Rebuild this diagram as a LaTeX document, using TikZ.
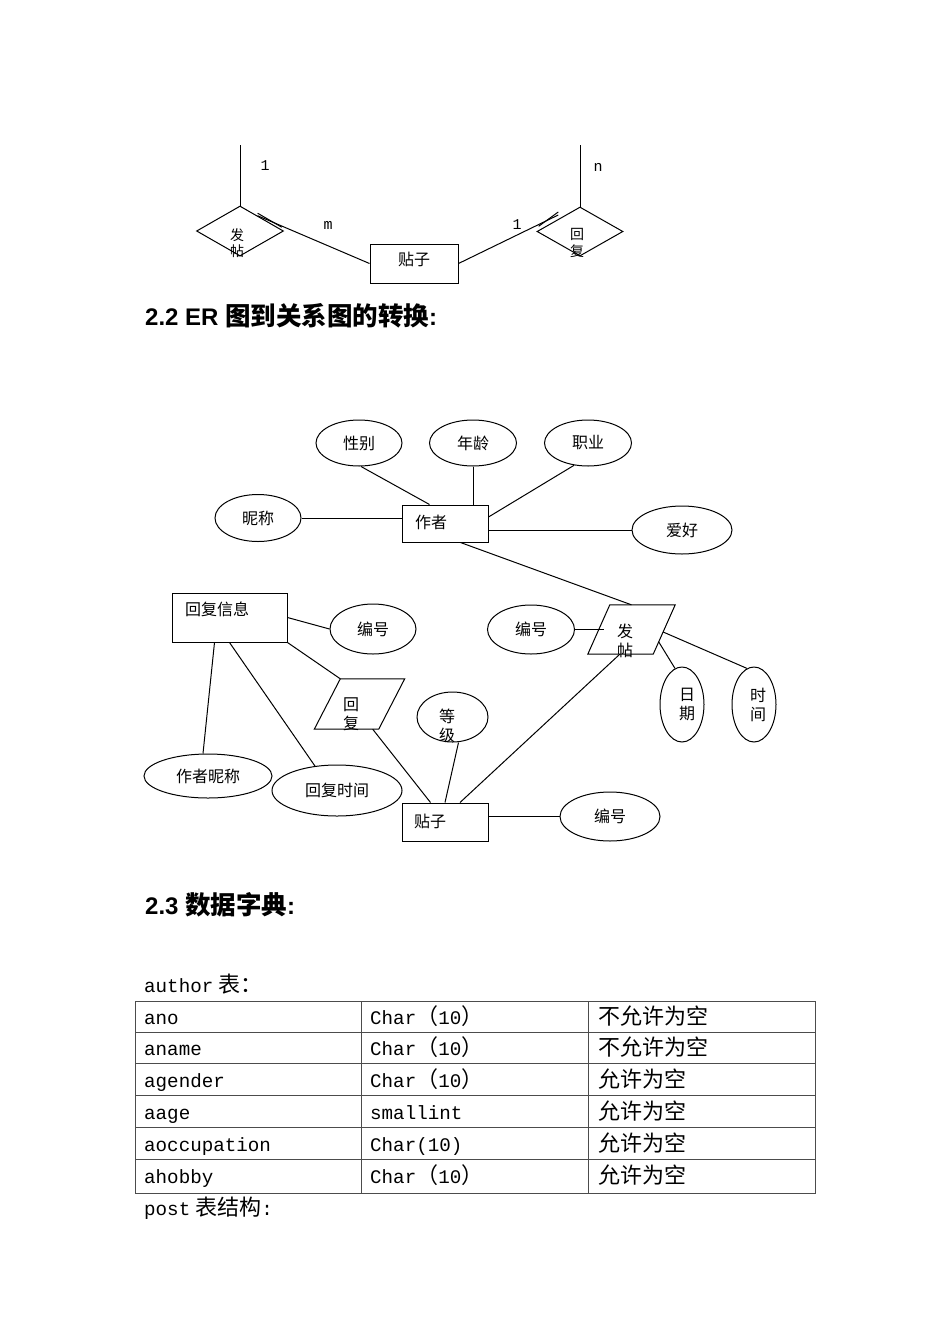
\documentclass[tikz,border=0pt]{standalone}
\usepackage{fontspec}
\usetikzlibrary{shapes.geometric,calc}
\newfontfamily\cjk{Noto Sans CJK SC}
\newfontfamily\mono{Liberation Mono}
\newfontfamily\hsans{Liberation Sans}
\newcommand\cj[1]{{\cjk\fontsize{22}{26}\selectfont #1}}
\newcommand\mo[1]{{\mono\fontsize{19.2}{26}\selectfont #1}}
\tikzset{
  ln/.style={draw=black, line width=1pt},
  ertxt/.style={font=\cjk\fontsize{16}{19}\selectfont, inner sep=0pt, align=center},
  smtxt/.style={font=\cjk\fontsize{14}{16.5}\selectfont, inner sep=0pt, align=center},
  ell/.style={ellipse, draw, line width=1pt, inner sep=0pt, ertxt},
  ent/.style={rectangle, draw, line width=1pt, inner sep=0pt},
  dia/.style={diamond, draw, line width=1pt, inner sep=0pt},
  body/.style={rectangle, inner sep=0pt},
  card/.style={font=\mono\fontsize{15}{17}\selectfont, inner sep=0pt},
  head/.style={anchor=base west, inner sep=0pt},
  tabline/.style={draw=black!70, line width=1pt},
  cell/.style={anchor=base west, inner sep=0pt},
}
\newcommand\hd[2]{{\hsans\bfseries\fontsize{24}{28}\selectfont #1}{\cjk\bfseries\fontsize{25.5}{28}\selectfont #2}{\hsans\bfseries\fontsize{24}{28}\selectfont :}}
\begin{document}
\begin{tikzpicture}[x=1pt,y=-1pt]
\fill[white] (0,0) rectangle (950,1344);
\useasboundingbox (0,0) rectangle (950,1344);

% ---------- top fragment ----------
\node[dia, minimum width=87, minimum height=50] (fa1) at (240,231) {};
\node[dia, minimum width=86, minimum height=49] (hf1) at (580,231.5) {};
\node[ent, minimum width=88, minimum height=39] (tz1) at (414,263.5) {};
\node[ertxt] (tz1t) at (414,259) {贴子};
\node[smtxt] (fa1t) at (237,243) {发\\帖};
\node[smtxt] (hf1t) at (577,243) {回\\复};
\coordinate (fa1top) at (240,145);
\coordinate (hf1top) at (580,145);
\draw[ln] (fa1.north) -- (fa1top);
\draw[ln] (hf1.north) -- (hf1top);
\draw[ln] ($(fa1.north)!0.4!(fa1.east)$) -- (tz1.west);
\draw[ln] ($(fa1.north)!0.4!(fa1.east)+(0,-2.5)$) -- ($(fa1.north)!0.95!(fa1.east)+(0,-2.5)$);
\draw[ln] (tz1.east) -- ($(hf1.west)!0.5!(hf1.north)+(0,-4)$);
\draw[ln] ($(hf1.west)!0.05!(hf1.north)+(0,-4)$) -- ($(hf1.west)!0.5!(hf1.north)+(0,-7)$);
\node[card] (c1) at (265,166) {1};
\node[card] (c2) at (328,225) {m};
\node[card] (c3) at (517,225) {1};
\node[card] (c4) at (598,167) {n};

% ---------- heading 2.2 ----------
\node[head] (h22) at (145,325) {\hd{2.2 ER }{图到关系图的转换}};

% ---------- ER diagram ----------
\node[ell, minimum width=86, minimum height=46] (xb) at (359,443) {性别};
\node[ell, minimum width=87, minimum height=46] (nl) at (473,443) {年龄};
\node[ell, minimum width=87, minimum height=46] (zy) at (588,443) {职业};
\node[ell, minimum width=86, minimum height=47] (nc) at (258,518) {昵称};
\node[ell, minimum width=100, minimum height=48] (ah) at (682,530) {爱好};
\node[ent, minimum width=86, minimum height=37] (zz) at (445,523.5) {};
\node[ertxt] (zzt) at (431,522) {作者};

\draw[ln] ($(xb.south)+(2,0)$) -- ($(zz.north west)+(28,0)$);
\draw[ln] (nl.south) -- (nl.south |- zz.north);
\draw[ln] (zy.-122.5) -- ($(zz.east)+(0,-6.5)$);
\draw[ln] (nc.east) -- (nc.east -| zz.west);
\draw[ln] (ah.west -| zz.east) -- (ah.west);

% relationship 发帖 (parallelogram)
\node[body, minimum width=65, minimum height=49] (ft2) at (631.5,629.5) {};
\coordinate (ft2tl) at ($(ft2.north west)+(11,0)$);
\coordinate (ft2tr) at ($(ft2.north east)+(11,0)$);
\coordinate (ft2br) at ($(ft2.south east)+(-11,0)$);
\coordinate (ft2bl) at ($(ft2.south west)+(-11,0)$);
\draw[ln] (ft2tl) -- (ft2tr) -- (ft2br) -- (ft2bl) -- cycle;
\node[ertxt] (ft2t) at (625,640.5) {发\\帖};
\draw[ln] ($(zz.south east)+(-28,0)$) -- ($(ft2tl)!0.33!(ft2tr)$);

\node[ent, minimum width=115, minimum height=49] (hx) at (229.5,617.5) {};
\node[ertxt] (hxt) at (217,609) {回复信息};
\node[ell, minimum width=86, minimum height=50] (bh1) at (373,629) {编号};

% relationship 回复 (parallelogram)
\node[body, minimum width=64, minimum height=50] (hf2) at (359.5,704) {};
\coordinate (hf2tl) at ($(hf2.north west)+(13,0)$);
\coordinate (hf2tr) at ($(hf2.north east)+(13,0)$);
\coordinate (hf2br) at ($(hf2.south east)+(-13,0)$);
\coordinate (hf2bl) at ($(hf2.south west)+(-13,0)$);
\draw[ln] (hf2tl) -- (hf2tr) -- (hf2br) -- (hf2bl) -- cycle;
\node[ertxt] (hf2t) at (351,714) {回\\复};

\node[ell, minimum width=128, minimum height=44] (zznc) at (208,776) {作者昵称};
\node[ell, minimum width=130, minimum height=51] (hfsj) at (337,790.5) {回复时间};
\node[ell, minimum width=71, minimum height=50] (dj) at (452.5,717) {};
\node[ertxt] (djt) at (447,725.5) {等\\级};
\node[ell, minimum width=87, minimum height=49] (bh2) at (531,629.5) {编号};
\node[ell, minimum width=44, minimum height=75] (rq) at (682,704.5) {};
\node[ertxt] (rqt) at (687,704.5) {日\\期};
\node[ell, minimum width=44, minimum height=75] (sj) at (754,704.5) {};
\node[ertxt] (sjt) at (758,704.5) {时\\间};
\node[ent, minimum width=86, minimum height=38] (tz2) at (445,822) {};
\node[ertxt] (tz2t) at (430,821) {贴子};
\node[ell, minimum width=100, minimum height=49] (bh3) at (610,816.5) {编号};

\draw[ln] (hx.east) -- (bh1.west);
\draw[ln] (hx.south east) -- (hf2tl);
\draw[ln] ($(hx.south west)+(43,0)$) -- ($(zznc.north)+(-5,0)$);
\draw[ln] ($(hx.south west)+(58,0)$) -- (hfsj.132);
\draw[ln] ($(hf2br)+(-6,0)$) -- ($(tz2.north west)+(29,0)$);
\draw[ln] ($(dj.south)+(6,0)$) -- (tz2.north);
\draw[ln] ($(ft2bl)+(32,0)$) -- ($(tz2.north)+(15,0)$);
\draw[ln] (bh2.east) -- ($(bh2.east)+(29,0)$);
\draw[ln] ($(ft2br)!0.25!(ft2tr)$) -- (rq.101);
\draw[ln] ($(ft2br)!0.45!(ft2tr)$) -- (sj.101);
\draw[ln] (bh3.west -| tz2.east) -- (bh3.west);

% ---------- heading 2.3 ----------
\node[head] (h23) at (145,914) {\hd{2.3 }{数据字典}};

% ---------- table ----------
\node[cell] (cap1) at (144,992) {\mo{author}\hspace{5pt}\cj{表：}};
\draw[tabline] (135,1001) rectangle (815,1193);
\foreach \yy in {1032,1063,1095,1127,1159} {\draw[tabline] (135,\yy) -- (815,\yy);}
\draw[tabline] (361,1001) -- (361,1193);
\draw[tabline] (588,1001) -- (588,1193);

\node[cell] (a1) at (144,1024) {\mo{ano}};
\node[cell] (b1) at (370,1024) {\mo{Char}\cj{（}\mo{10}\cj{）}};
\node[cell] (c1r) at (598,1024) {\cj{不允许为空}};
\node[cell] (a2) at (144,1055) {\mo{aname}};
\node[cell] (b2) at (370,1055) {\mo{Char}\cj{（}\mo{10}\cj{）}};
\node[cell] (c2r) at (598,1055) {\cj{不允许为空}};
\node[cell] (a3) at (144,1087) {\mo{agender}};
\node[cell] (b3) at (370,1087) {\mo{Char}\cj{（}\mo{10}\cj{）}};
\node[cell] (c3r) at (598,1087) {\cj{允许为空}};
\node[cell] (a4) at (144,1119) {\mo{aage}};
\node[cell] (b4) at (370,1119) {\mo{smallint}};
\node[cell] (c4r) at (598,1119) {\cj{允许为空}};
\node[cell] (a5) at (144,1151) {\mo{aoccupation}};
\node[cell] (b5) at (370,1151) {\mo{Char(10)}};
\node[cell] (c5r) at (598,1151) {\cj{允许为空}};
\node[cell] (a6) at (144,1183) {\mo{ahobby}};
\node[cell] (b6) at (370,1183) {\mo{Char}\cj{（}\mo{10}\cj{）}};
\node[cell] (c6r) at (598,1183) {\cj{允许为空}};
\node[cell] (cap2) at (144,1215) {\mo{post}\hspace{5pt}\cj{表结构}\mo{:}};
\end{tikzpicture}
\end{document}
